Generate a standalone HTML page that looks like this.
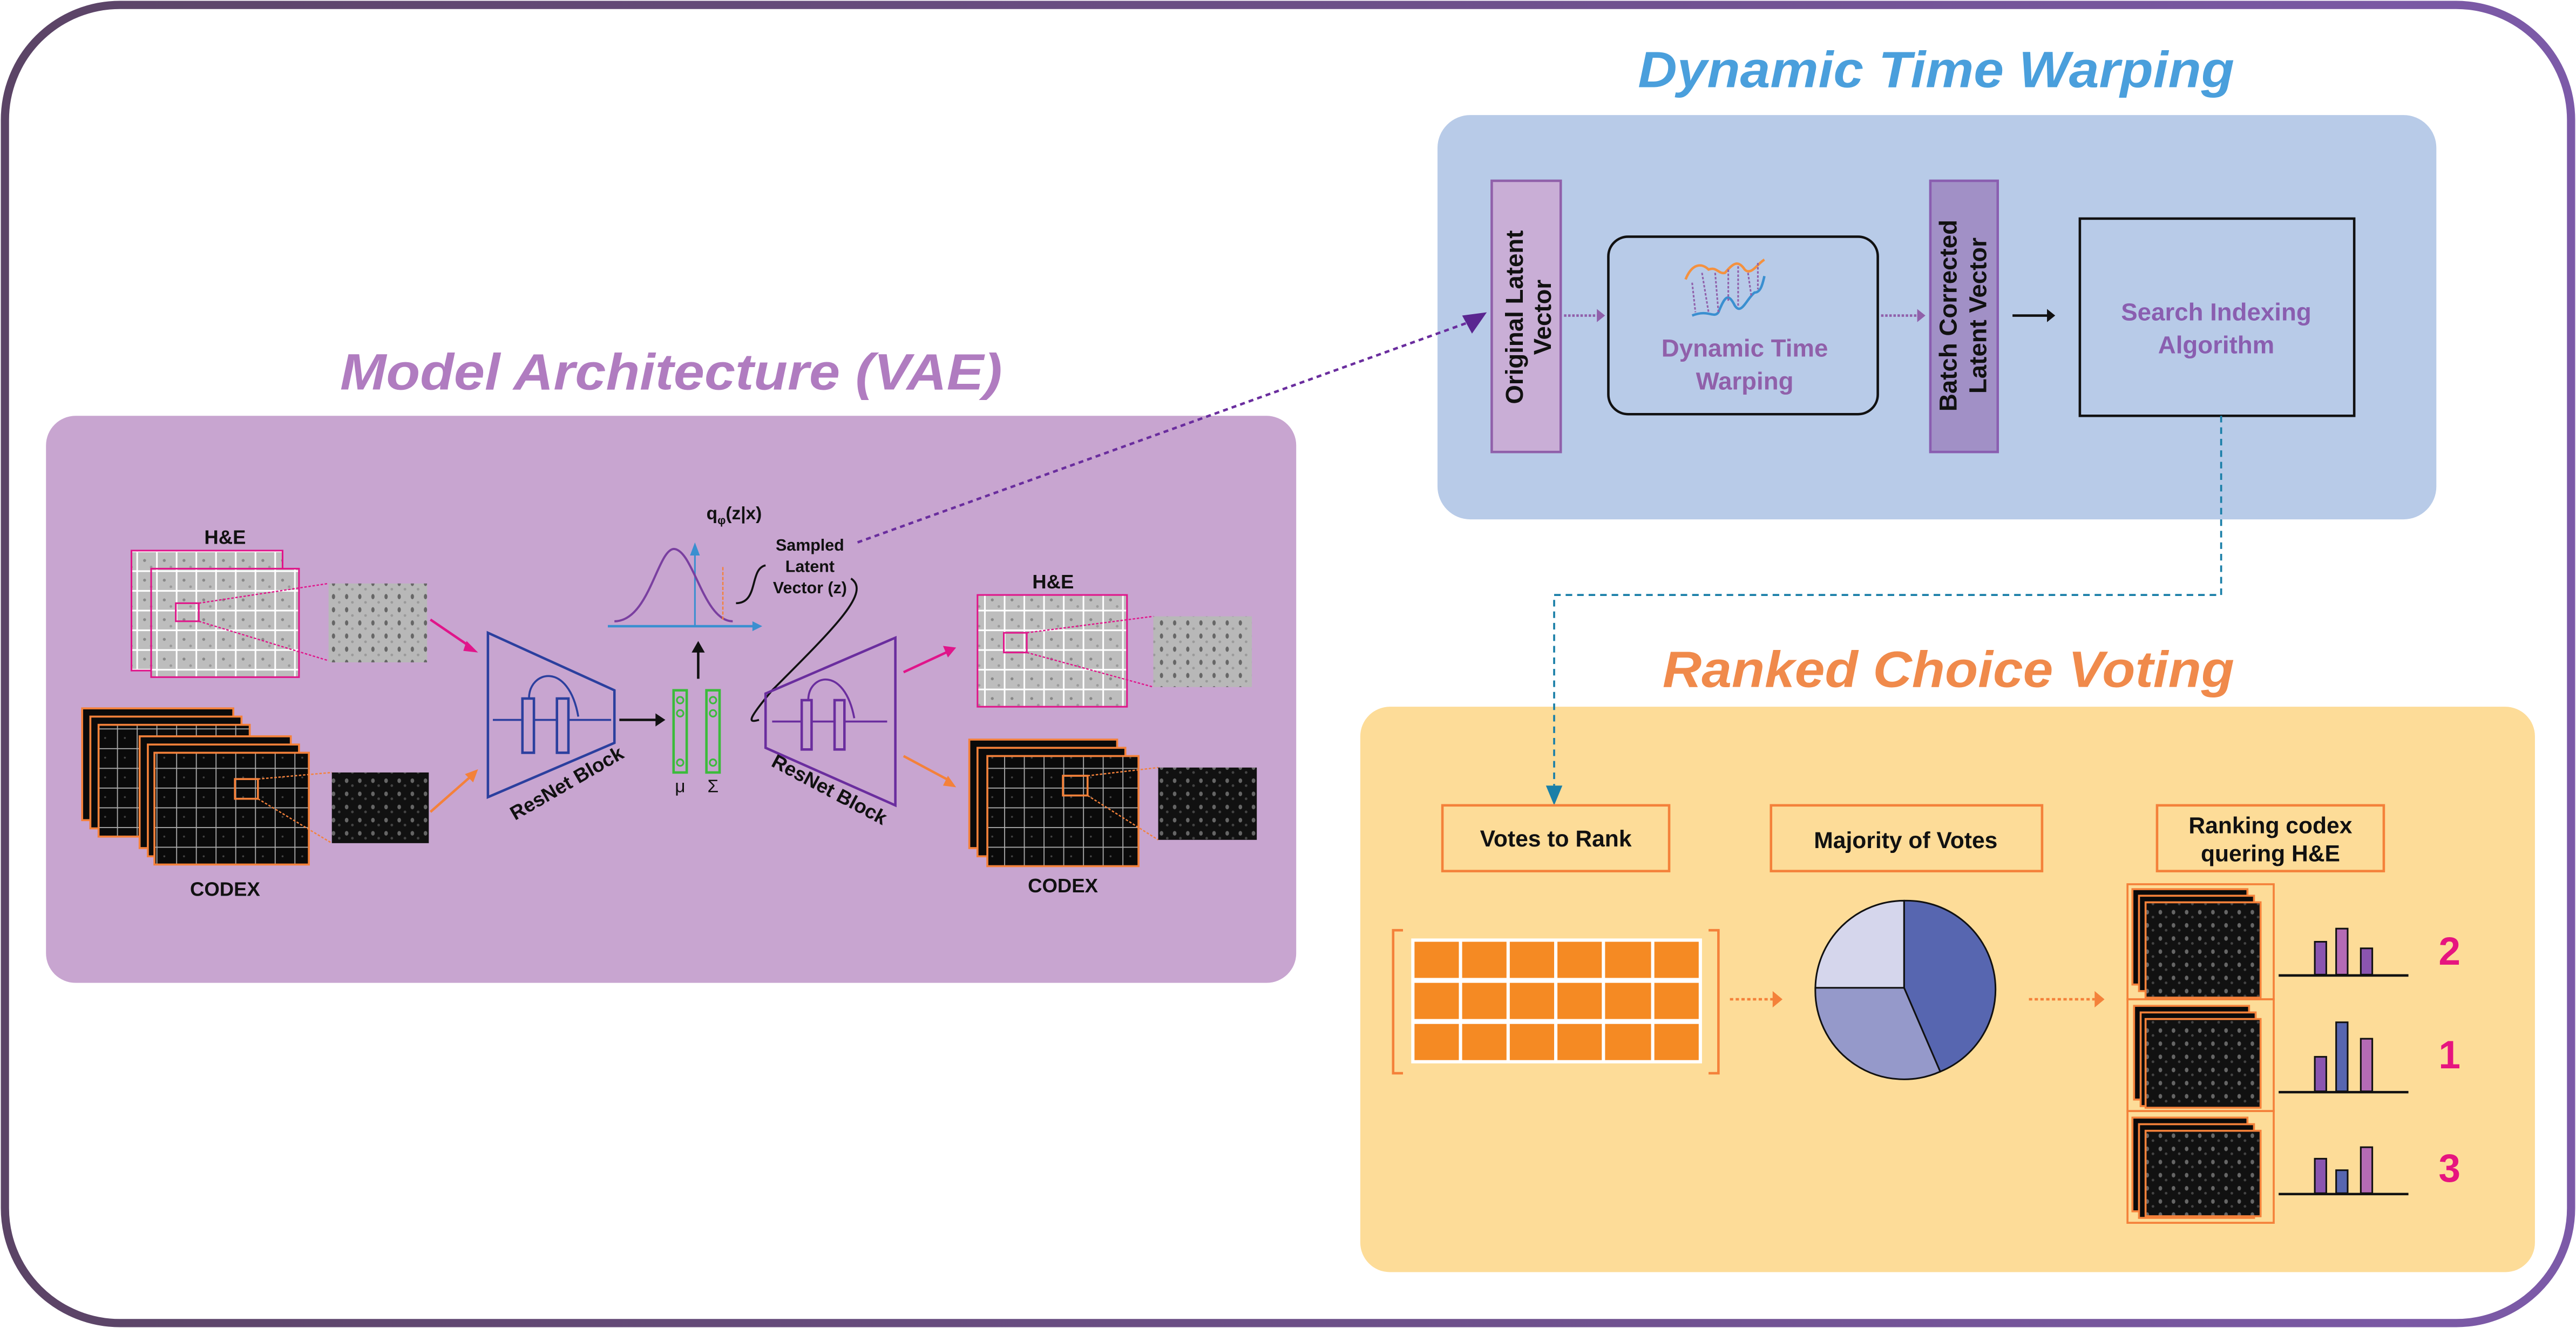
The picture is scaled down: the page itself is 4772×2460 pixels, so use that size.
<!DOCTYPE html>
<html><head><meta charset="utf-8"><style>
html,body{margin:0;padding:0;background:#fff;width:4772px;height:2460px;overflow:hidden}
svg{display:block}
text{font-family:"Liberation Sans",sans-serif}
</style></head><body>
<svg width="4772" height="2460" viewBox="0 0 1568 808" preserveAspectRatio="none" xmlns="http://www.w3.org/2000/svg">
<defs>
<linearGradient id="bd" x1="0" x2="1" y1="0" y2="0"><stop offset="0" stop-color="#5b4466"/><stop offset="1" stop-color="#7c5aa8"/></linearGradient>
<pattern id="hg" width="12" height="12" patternUnits="userSpaceOnUse"><rect width="12" height="12" fill="#bdbdbd"/><path d="M0 11.5H12M11.5 0V12" stroke="#fff" stroke-width="1"/><circle cx="4" cy="5" r="0.9" fill="#888"/><circle cx="8" cy="9" r="0.8" fill="#999"/></pattern>
<pattern id="cg" width="12" height="12" patternUnits="userSpaceOnUse"><rect width="12" height="12" fill="#0a0a0a"/><path d="M0 11.5H12M11.5 0V12" stroke="#aaa" stroke-width="0.6"/><circle cx="4" cy="5" r="0.6" fill="#444"/></pattern>
<pattern id="hz" width="8" height="8" patternUnits="userSpaceOnUse"><rect width="8" height="8" fill="#b8b8b8"/><ellipse cx="3" cy="3" rx="1" ry="1.6" fill="#666"/><circle cx="6.5" cy="6.5" r="0.8" fill="#999"/></pattern>
<pattern id="cz" width="8" height="8" patternUnits="userSpaceOnUse"><rect width="8" height="8" fill="#111"/><ellipse cx="3" cy="3" rx="1.1" ry="1.4" fill="#666"/><circle cx="6.5" cy="6" r="0.8" fill="#444"/></pattern>
</defs>
<rect x="3" y="3" width="1562" height="802" rx="70" fill="#fff" stroke="url(#bd)" stroke-width="5"/>

<!-- DTW panel -->
<text x="997" y="53" textLength="363" lengthAdjust="spacingAndGlyphs" font-size="31" font-weight="bold" font-style="italic" fill="#4a9fdc">Dynamic Time Warping</text>
<rect x="875" y="70" width="608" height="246" rx="20" fill="#b8cbe8"/>
<rect x="908" y="110" width="42" height="165" fill="#c9aed6" stroke="#9060aa" stroke-width="1.5"/>
<text transform="translate(927 193) rotate(-90)" text-anchor="middle" font-size="15" font-weight="bold" fill="#111">Original Latent</text>
<text transform="translate(944 193) rotate(-90)" text-anchor="middle" font-size="15" font-weight="bold" fill="#111">Vector</text>
<path d="M952 192H973" stroke="#9060aa" stroke-width="1.5" stroke-dasharray="1.5 1"/><path d="M972 188L977 192L972 196Z" fill="#9060aa"/>
<rect x="979" y="144" width="164" height="108" rx="12" fill="none" stroke="#111" stroke-width="1.5"/>
<path d="M1026 170C1030 160,1036 160,1040 164C1045 162,1046 167,1050 166C1055 160,1058 158,1062 164C1066 168,1070 160,1074 158" stroke="#f4913f" stroke-width="1.5" fill="none"/>
<path d="M1030 192C1040 188,1043 194,1046 190C1050 180,1052 178,1056 186C1060 192,1063 182,1068 178C1072 178,1073 172,1074 168" stroke="#3a8fd0" stroke-width="1.5" fill="none"/>
<path d="M1030 172L1032 190M1036 166L1040 190M1044 166L1046 190M1052 164L1052 184M1058 162L1058 186M1064 166L1066 180M1070 160L1070 176" stroke="#9060aa" stroke-width="1" stroke-dasharray="1.5 1"/>
<text x="1062" y="217" text-anchor="middle" font-size="15" font-weight="bold" fill="#9060aa">Dynamic Time</text>
<text x="1062" y="237" text-anchor="middle" font-size="15" font-weight="bold" fill="#9060aa">Warping</text>
<path d="M1145 192H1168" stroke="#9060aa" stroke-width="1.5" stroke-dasharray="1.5 1"/><path d="M1167 188L1172 192L1167 196Z" fill="#9060aa"/>
<rect x="1175" y="110" width="41" height="165" fill="#a190c6" stroke="#8a5eb0" stroke-width="1.5"/>
<text transform="translate(1191 192) rotate(-90)" text-anchor="middle" font-size="15" font-weight="bold" fill="#111">Batch Corrected</text>
<text transform="translate(1209 192) rotate(-90)" text-anchor="middle" font-size="15" font-weight="bold" fill="#111">Latent Vector</text>
<path d="M1225 192H1247" stroke="#111" stroke-width="1.5"/><path d="M1246 188L1251 192L1246 196Z" fill="#111"/>
<rect x="1266" y="133" width="167" height="120" fill="none" stroke="#111" stroke-width="1.5"/>
<text x="1349" y="195" text-anchor="middle" font-size="15" font-weight="bold" fill="#8a5eb0">Search Indexing</text>
<text x="1349" y="215" text-anchor="middle" font-size="15" font-weight="bold" fill="#8a5eb0">Algorithm</text>

<!-- VAE panel -->
<text x="207" y="237" textLength="403" lengthAdjust="spacingAndGlyphs" font-size="31" font-weight="bold" font-style="italic" fill="#b07cc0">Model Architecture (VAE)</text>
<rect x="28" y="253" width="761" height="345" rx="18" fill="#c8a5d0"/>
<text x="137" y="331" text-anchor="middle" font-size="12" font-weight="bold" fill="#111">H&amp;E</text>
<rect x="80" y="335" width="92" height="73" fill="url(#hg)" stroke="#e0158a" stroke-width="1"/>
<rect x="92" y="346" width="90" height="66" fill="url(#hg)" stroke="#e0158a" stroke-width="1"/>
<rect x="107" y="367" width="14" height="11" fill="none" stroke="#e0158a" stroke-width="1"/>
<path d="M121 367L200 355M121 378L200 402" stroke="#e0158a" stroke-width="0.8" stroke-dasharray="1.5 1"/>
<rect x="200" y="355" width="60" height="48" fill="url(#hz)"/>
<path d="M262 377L287 394" stroke="#e0158a" stroke-width="1.5"/><path d="M284 390L291 397L282 396Z" fill="#e0158a"/>
<g stroke="#f4813a" stroke-width="1.2">
<rect x="50" y="431" width="92" height="68" fill="#0a0a0a"/>
<rect x="55" y="436" width="92" height="68" fill="#0a0a0a"/>
<rect x="60" y="441" width="92" height="68" fill="url(#cg)"/>
<rect x="85" y="448" width="92" height="68" fill="#0a0a0a"/>
<rect x="90" y="453" width="92" height="68" fill="#0a0a0a"/>
<rect x="94" y="458" width="94" height="68" fill="url(#cg)"/>
<rect x="143" y="474" width="14" height="12" fill="none"/>
</g>
<path d="M157 474L202 470M157 486L202 513" stroke="#f4813a" stroke-width="0.8" stroke-dasharray="1.5 1"/>
<rect x="202" y="470" width="59" height="43" fill="url(#cz)"/>
<text x="137" y="545" text-anchor="middle" font-size="12" font-weight="bold" fill="#111">CODEX</text>
<path d="M262 494L287 472" stroke="#f4813a" stroke-width="1.5"/><path d="M283 471L291 468L288 476Z" fill="#f4813a"/>
<!-- left trapezoid -->
<path d="M297 385L374 420V452L297 485Z" fill="none" stroke="#2b3f9e" stroke-width="1.5"/>
<rect x="318" y="425" width="7" height="33" fill="none" stroke="#2b3f9e" stroke-width="1.5"/>
<rect x="339" y="425" width="7" height="33" fill="none" stroke="#2b3f9e" stroke-width="1.5"/>
<path d="M300 438H318M325 438H339M346 438H372M322 425C322 408,346 402,352 436" stroke="#2b3f9e" stroke-width="1.2" fill="none"/>
<text transform="translate(347 480) rotate(-30)" text-anchor="middle" font-size="12" font-weight="bold" fill="#111">ResNet Block</text>
<path d="M377 438H400" stroke="#111" stroke-width="1.5"/><path d="M399 434L405 438L399 442Z" fill="#111"/>
<rect x="410" y="420" width="8" height="50" fill="none" stroke="#3bbb3b" stroke-width="1.5"/>
<rect x="430" y="420" width="8" height="50" fill="none" stroke="#3bbb3b" stroke-width="1.5"/>
<g fill="none" stroke="#3bbb3b" stroke-width="1"><circle cx="414" cy="426" r="2"/><circle cx="414" cy="434" r="2"/><circle cx="414" cy="464" r="2"/><circle cx="434" cy="426" r="2"/><circle cx="434" cy="434" r="2"/><circle cx="434" cy="464" r="2"/></g>
<text x="414" y="482" text-anchor="middle" font-size="11" fill="#111">μ</text>
<text x="434" y="482" text-anchor="middle" font-size="11" fill="#111">Σ</text>
<path d="M425 413V396" stroke="#111" stroke-width="1.5"/><path d="M421 397L425 390L429 397Z" fill="#111"/>
<path d="M370 381H460" stroke="#3a8fd0" stroke-width="1.5"/><path d="M458 378L464 381L458 384Z" fill="#3a8fd0"/>
<path d="M423 381V336" stroke="#3a8fd0" stroke-width="1"/><path d="M420 338L423 330L426 338Z" fill="#3a8fd0"/>
<path d="M374 378C395 378,400 335,410 334C422 334,428 378,446 378" stroke="#7a3fa0" stroke-width="1.3" fill="none"/>
<path d="M440 345V378" stroke="#f4813a" stroke-width="0.8" stroke-dasharray="2 1"/>
<text x="430" y="316" font-size="11" font-family="Liberation Serif" font-weight="bold" fill="#111">q<tspan font-size="7" dy="3">φ</tspan><tspan dy="-3">(z|x)</tspan></text>
<text x="493" y="335" text-anchor="middle" font-size="10" font-weight="bold" fill="#111">Sampled</text>
<text x="493" y="348" text-anchor="middle" font-size="10" font-weight="bold" fill="#111">Latent</text>
<text x="493" y="361" text-anchor="middle" font-size="10" font-weight="bold" fill="#111">Vector (z)</text>
<path d="M448 367C462 367,456 346,466 344" stroke="#111" stroke-width="1.2" fill="none"/>
<path d="M518 352C530 360,510 380,470 420C455 438,455 440,462 438" stroke="#111" stroke-width="1.2" fill="none"/>
<!-- right trapezoid -->
<path d="M545 388L466 422V455L545 490Z" fill="none" stroke="#6a2d9e" stroke-width="1.5"/>
<rect x="488" y="426" width="6" height="30" fill="none" stroke="#6a2d9e" stroke-width="1.5"/>
<rect x="508" y="426" width="6" height="30" fill="none" stroke="#6a2d9e" stroke-width="1.5"/>
<path d="M470 439H488M494 439H508M514 439H540M492 426C492 410,514 405,520 437" stroke="#6a2d9e" stroke-width="1.2" fill="none"/>
<text transform="translate(503 484) rotate(28)" text-anchor="middle" font-size="12" font-weight="bold" fill="#111">ResNet Block</text>
<path d="M550 409L578 396" stroke="#e0158a" stroke-width="1.5"/><path d="M574 393L582 394L577 400Z" fill="#e0158a"/>
<path d="M550 460L578 475" stroke="#f4813a" stroke-width="1.5"/><path d="M574 478L582 479L577 472Z" fill="#f4813a"/>
<text x="641" y="358" text-anchor="middle" font-size="12" font-weight="bold" fill="#111">H&amp;E</text>
<rect x="595" y="362" width="91" height="68" fill="url(#hg)" stroke="#e0158a" stroke-width="1"/>
<rect x="611" y="385" width="14" height="12" fill="none" stroke="#e0158a" stroke-width="1"/>
<path d="M625 385L702 375M625 397L702 418" stroke="#e0158a" stroke-width="0.8" stroke-dasharray="1.5 1"/>
<rect x="702" y="375" width="60" height="43" fill="url(#hz)"/>
<g stroke="#f4813a" stroke-width="1.2">
<rect x="590" y="450" width="90" height="66" fill="#0a0a0a"/>
<rect x="595" y="455" width="90" height="66" fill="#0a0a0a"/>
<rect x="601" y="460" width="92" height="67" fill="url(#cg)"/>
<rect x="647" y="472" width="15" height="12" fill="none"/>
</g>
<path d="M662 472L705 467M662 484L705 511" stroke="#f4813a" stroke-width="0.8" stroke-dasharray="1.5 1"/>
<rect x="705" y="467" width="60" height="44" fill="url(#cz)"/>
<text x="647" y="543" text-anchor="middle" font-size="12" font-weight="bold" fill="#111">CODEX</text>

<!-- purple dashed connector -->
<path d="M522 330L897 195" stroke="#6a2d9e" stroke-width="1.5" stroke-dasharray="3 2.5"/>
<path d="M890 192L905 190L896 203Z" fill="#5a2690"/>

<!-- RCV panel -->
<text x="1012" y="418" textLength="348" lengthAdjust="spacingAndGlyphs" font-size="31" font-weight="bold" font-style="italic" fill="#f08a4b">Ranked Choice Voting</text>
<rect x="828" y="430" width="715" height="344" rx="18" fill="#fddc98"/>
<path d="M1352 253V362H946V478" stroke="#1a7fa8" stroke-width="1.2" stroke-dasharray="4 3" fill="none"/>
<path d="M941 478L951 478L946 490Z" fill="#1a7fa8"/>
<g fill="none" stroke="#f4813a" stroke-width="1.5">
<rect x="878" y="490" width="138" height="40"/><rect x="1078" y="490" width="165" height="40"/><rect x="1313" y="490" width="138" height="40"/>
</g>
<text x="947" y="515" text-anchor="middle" font-size="14" font-weight="bold" fill="#111">Votes to Rank</text>
<text x="1160" y="516" text-anchor="middle" font-size="14" font-weight="bold" fill="#111">Majority of Votes</text>
<text x="1382" y="507" text-anchor="middle" font-size="14" font-weight="bold" fill="#111">Ranking codex</text>
<text x="1382" y="524" text-anchor="middle" font-size="14" font-weight="bold" fill="#111">quering H&amp;E</text>
<path d="M854 566H848V653H854M1040 566H1046V653H1040" fill="none" stroke="#f4813a" stroke-width="1.5"/>
<rect x="859" y="571" width="177" height="76" fill="#fff"/>
<g fill="#f58a23">
<rect x="861" y="573" width="27" height="22"/><rect x="890" y="573" width="27" height="22"/><rect x="919" y="573" width="27" height="22"/><rect x="948" y="573" width="27" height="22"/><rect x="977" y="573" width="28" height="22"/><rect x="1007" y="573" width="27" height="22"/>
<rect x="861" y="598" width="27" height="22"/><rect x="890" y="598" width="27" height="22"/><rect x="919" y="598" width="27" height="22"/><rect x="948" y="598" width="27" height="22"/><rect x="977" y="598" width="28" height="22"/><rect x="1007" y="598" width="27" height="22"/>
<rect x="861" y="623" width="27" height="22"/><rect x="890" y="623" width="27" height="22"/><rect x="919" y="623" width="27" height="22"/><rect x="948" y="623" width="27" height="22"/><rect x="977" y="623" width="28" height="22"/><rect x="1007" y="623" width="27" height="22"/>
</g>
<path d="M1053 608H1080" stroke="#f4813a" stroke-width="1.5" stroke-dasharray="2 1.5"/><path d="M1079 603L1085 608L1079 613Z" fill="#f4813a"/>
<path d="M1235 608H1275" stroke="#f4813a" stroke-width="1.5" stroke-dasharray="2 1.5"/><path d="M1275 603L1281 608L1275 613Z" fill="#f4813a"/>
<path d="M1159 548A54 54 0 0 1 1181 652L1159 601Z" fill="#5766b0" stroke="#111" stroke-width="1"/>
<path d="M1181 652A54 54 0 0 1 1105 601L1159 601Z" fill="#9599ca" stroke="#111" stroke-width="1"/>
<path d="M1105 601A54 54 0 0 1 1159 548L1159 601Z" fill="#d5d6ec" stroke="#111" stroke-width="1"/>
<g stroke="#f4813a" stroke-width="1.2">
<rect x="1295" y="538" width="89" height="70" fill="none"/>
<rect x="1298" y="541" width="70" height="58" fill="#0a0a0a"/><rect x="1302" y="545" width="70" height="58" fill="#0a0a0a"/><rect x="1306" y="549" width="70" height="58" fill="url(#cz)"/>
<rect x="1295" y="608" width="89" height="68" fill="none"/>
<rect x="1299" y="612" width="70" height="57" fill="#0a0a0a"/><rect x="1303" y="616" width="70" height="57" fill="#0a0a0a"/><rect x="1306" y="620" width="70" height="54" fill="url(#cz)"/>
<rect x="1295" y="676" width="89" height="68" fill="none"/>
<rect x="1298" y="680" width="70" height="57" fill="#0a0a0a"/><rect x="1302" y="684" width="70" height="57" fill="#0a0a0a"/><rect x="1306" y="688" width="70" height="52" fill="url(#cz)"/>
</g>
<g stroke="#111" stroke-width="1">
<rect x="1409" y="573" width="7" height="20" fill="#8a55b0"/><rect x="1422" y="565" width="7" height="28" fill="#b46bb5"/><rect x="1437" y="577" width="7" height="16" fill="#8a55b0"/>
<rect x="1409" y="643" width="7" height="21" fill="#8a55b0"/><rect x="1422" y="622" width="7" height="42" fill="#5766b0"/><rect x="1437" y="632" width="7" height="32" fill="#b46bb5"/>
<rect x="1409" y="705" width="7" height="21" fill="#8a55b0"/><rect x="1422" y="712" width="7" height="14" fill="#5766b0"/><rect x="1437" y="698" width="7" height="28" fill="#b46bb5"/>
</g>
<path d="M1387 593.5H1466M1387 664.5H1466M1387 726.5H1466" stroke="#111" stroke-width="1.5"/>
<text x="1491" y="587" text-anchor="middle" font-size="24" font-weight="bold" fill="#e6157f">2</text>
<text x="1491" y="650" text-anchor="middle" font-size="24" font-weight="bold" fill="#e6157f">1</text>
<text x="1491" y="719" text-anchor="middle" font-size="24" font-weight="bold" fill="#e6157f">3</text>
</svg>
</body></html>
